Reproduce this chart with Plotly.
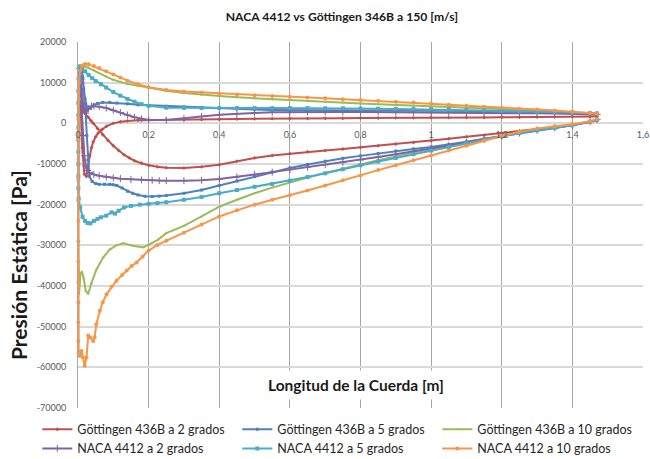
import plotly.graph_objects as go

# ---- data ----
XM = [1.47, 1.45, 1.40, 1.35, 1.30, 1.25, 1.20, 1.15, 1.10, 1.05, 1.00, 0.95, 0.90,
      0.85, 0.80, 0.75, 0.70, 0.65, 0.60, 0.55, 0.50, 0.45, 0.40, 0.35, 0.30, 0.25]

# Göttingen 436B a 2 grados
G2_UP = [1650, 1650, 1650, 1600, 1550, 1500, 1500, 1450, 1450, 1400, 1400, 1350, 1350,
         1300, 1300, 1250, 1250, 1200, 1200, 1150, 1100, 1050, 1000, 950, 950, 900]
G2_LE_X = [0.20, 0.17, 0.14, 0.12, 0.10, 0.081, 0.068, 0.057, 0.05, 0.043, 0.038, 0.033, 0.028,
           0.024, 0.018, 0.012, 0.007, 0.003, 0.009, 0.014, 0.02, 0.029, 0.036, 0.043, 0.055,
           0.07, 0.085, 0.10, 0.115, 0.13, 0.145, 0.16, 0.18, 0.20, 0.225]
G2_LE_Y = [850, 750, 600, 400, 0, -700, -1500, -2400, -3300, -4600, -6000, -8000, -10500,
           -13000, -12500, -6000, 5000, 13500, 8000, 3100, 2400, 1500, 700, 0, -1300,
           -2800, -4200, -5500, -6700, -7700, -8500, -9200, -9800, -10300, -10700]
G2_LO = [-10900, -11000, -10700, -10200, -9300, -8500, -7900, -7450, -7000, -6700, -6300, -5900,
         -5500, -5100, -4700, -4300, -3800, -3300, -2900, -2400, -1900, -1400, -900, -400, 400, 800]

# Göttingen 436B a 5 grados
G5_UP = [2400, 2500, 2600, 2700, 2800, 2900, 2950, 3000, 3050, 3100, 3150, 3150, 3150,
         3150, 3150, 3150, 3150, 3150, 3200, 3300, 3400, 3550, 3700, 3900, 4050, 4200]
G5_LE_X = [0.20, 0.17, 0.14, 0.11, 0.09, 0.07, 0.055, 0.045, 0.035, 0.027, 0.02, 0.014, 0.01,
           0.013, 0.016, 0.021, 0.025, 0.028, 0.032, 0.04, 0.05, 0.06, 0.075, 0.09, 0.10,
           0.11, 0.125, 0.14, 0.155, 0.17, 0.19, 0.21, 0.23]
G5_LE_Y = [4400, 4550, 4800, 5000, 5150, 5150, 4900, 4500, 3700, 3600, 6000, 11000, 13800,
           11500, 8400, 3500, -3000, -9000, -13000, -14300, -14800, -15000, -15000, -15000, -15100,
           -15300, -15900, -16700, -17200, -17600, -17950, -18000, -17900]
G5_LO = [-17750, -17200, -16400, -15300, -14200, -13100, -12000, -11000, -10100, -9300, -8600, -8000,
         -7400, -6800, -6300, -5800, -5200, -4500, -3800, -3200, -2500, -1800, -1100, -500, 400, 900]

# Göttingen 436B a 10 grados
G10_UP = [2300, 2400, 2700, 2900, 3100, 3300, 3500, 3650, 3800, 3950, 4100, 4300, 4500,
          4700, 4900, 5100, 5300, 5450, 5650, 5850, 6100, 6400, 6700, 7050, 7450, 8000]
G10_LE_X = [0.20, 0.17, 0.14, 0.12, 0.10, 0.08, 0.06, 0.045, 0.03, 0.02, 0.012, 0.006, 0.003,
            0.002, 0.001, 0.001, 0.001, 0.002, 0.003, 0.007, 0.011, 0.016, 0.022, 0.029, 0.038,
            0.052, 0.071, 0.09, 0.109, 0.128, 0.156, 0.185, 0.20, 0.225]
G10_LE_Y = [8800, 9200, 9700, 10200, 10700, 11500, 12300, 13100, 13700, 14000, 13900, 13000, 9000,
            0, -10000, -20000, -30000, -36200, -42000, -37000, -36500, -38000, -41200, -41900, -39300,
            -36000, -33000, -31000, -30000, -29500, -30100, -30500, -29900, -28700]
G10_LO = [-27000, -25200, -22900, -20500, -18800, -17200, -15800, -14500, -13300, -12200, -11100,
          -10100, -9100, -8100, -7200, -6400, -5500, -4700, -3900, -3100, -2300, -1600, -1000, -400,
          400, 900]

# NACA 4412 a 2 grados
N2_UP = [2200, 2250, 2350, 2400, 2450, 2500, 2550, 2600, 2650, 2700, 2700, 2750, 2750,
         2800, 2800, 2800, 2800, 2800, 2750, 2700, 2550, 2350, 2100, 1700, 1200, 800]
N2_LE_X = [0.20, 0.18, 0.16, 0.14, 0.12, 0.10, 0.08, 0.06, 0.045, 0.038, 0.03, 0.022, 0.015,
           0.008, 0.004, 0.006, 0.01, 0.014, 0.018, 0.022, 0.027, 0.033, 0.045, 0.06, 0.08,
           0.10, 0.12, 0.15, 0.18, 0.21, 0.23]
N2_LE_Y = [800, 1100, 1500, 2050, 2650, 3200, 3750, 4100, 4250, 4250, 3600, 2500, 4000,
           10000, 13500, 11000, 4000, -3000, -8000, -10500, -11600, -12100, -12600, -12900, -13200,
           -13400, -13600, -13800, -13900, -14000, -14100]
N2_LO = [-14100, -14100, -14000, -13700, -13200, -12600, -12000, -11400, -10800, -10200, -9600,
         -9000, -8300, -7600, -6900, -6200, -5500, -4700, -3900, -3100, -2400, -1700, -1100, -500,
         400, 900]

# NACA 4412 a 5 grados
N5_UP = [2400, 2500, 2650, 2800, 2900, 3000, 3100, 3200, 3300, 3400, 3450, 3500, 3550,
         3600, 3650, 3700, 3700, 3750, 3750, 3750, 3750, 3750, 3750, 3750, 3800, 3850]
N5_LE_X = [0.20, 0.18, 0.16, 0.14, 0.12, 0.10, 0.08, 0.065, 0.05, 0.04, 0.03, 0.02, 0.012,
           0.006, 0.003, 0.002, 0.001, 0.001, 0.001, 0.001, 0.001, 0.001, 0.001, 0.001, 0.001,
           0.002, 0.006, 0.013, 0.02, 0.027, 0.035, 0.045, 0.055, 0.065, 0.08, 0.095, 0.105,
           0.115, 0.13, 0.15, 0.175, 0.20, 0.225]
N5_LE_Y = [4300, 4700, 5300, 6000, 6800, 7700, 8800, 9600, 10400, 11100, 11900, 12800, 13500,
           13900, 14000, 11000, 8000, 5000, 2000, -1000, -4000, -7000, -10000, -13000, -16000,
           -18500, -20700, -23000, -24000, -24500, -24600, -24000, -23500, -23100, -22700, -21900,
           -22200, -21500, -20700, -20300, -20000, -19800, -19600]
N5_LO = [-19400, -18800, -18100, -17200, -16400, -15600, -14900, -14100, -13200, -12300, -11300,
         -10300, -9400, -8500, -7600, -6700, -5800, -4900, -4000, -3200, -2400, -1700, -1100, -500,
         400, 900]

# NACA 4412 a 10 grados
N10_UP = [2400, 2550, 2900, 3150, 3400, 3600, 3850, 4100, 4350, 4600, 4850, 5100, 5300,
          5550, 5750, 5950, 6150, 6350, 6550, 6750, 6900, 7100, 7250, 7500, 7800, 8200]
N10_LE_X = [0.20, 0.17, 0.14, 0.12, 0.10, 0.08, 0.06, 0.045, 0.03, 0.02, 0.012, 0.006, 0.003,
            0.002, 0.001, 0.001, 0.001, 0.001, 0.001, 0.001, 0.001, 0.001, 0.001, 0.001, 0.001,
            0.001, 0.002, 0.005, 0.010, 0.014, 0.019, 0.024, 0.029, 0.034, 0.043, 0.047, 0.052,
            0.062, 0.07, 0.081, 0.095, 0.109, 0.125, 0.138, 0.152, 0.166, 0.183, 0.20, 0.225]
N10_LE_Y = [8900, 9600, 10500, 11300, 12000, 12800, 13600, 14100, 14500, 14600, 14200, 13000, 10000,
            6000, 1000, -4000, -9000, -14000, -19000, -24000, -29000, -34000, -39000, -44000, -49000,
            -53500, -56300, -57200, -56000, -57600, -59600, -57600, -52200, -52600, -53500, -52600,
            -49400, -46100, -44000, -42000, -40200, -38700, -37300, -36200, -35100, -34200, -32800,
            -31300, -29900]
N10_LO = [-28900, -26900, -24900, -22900, -21400, -20000, -18800, -17700, -16500, -15300, -14000,
          -12800, -11500, -10300, -9100, -7900, -6700, -5500, -4300, -3100, -2100, -1300, -700, -200,
          500, 1000]

NAMES = ["Göttingen 436B a 2 grados", "Göttingen 436B a 5 grados", "Göttingen 436B a 10 grados",
         "NACA 4412 a 2 grados", "NACA 4412 a 5 grados", "NACA 4412 a 10 grados"]

X_TICKS = [0, 0.2, 0.4, 0.6, 0.8, 1.0, 1.2, 1.4, 1.6]
X_TICK_LABELS = ["0", "0,2", "0,4", "0,6", "0,8", "1", "1,2", "1,4", "1,6"]
Y_TICKS = [20000, 10000, 0, -10000, -20000, -30000, -40000, -50000, -60000, -70000]
Y_TICK_LABELS = ["20000", "10000", "0", "-10000", "-20000", "-30000", "-40000", "-50000",
                 "-60000", "-70000"]

# ---- styles ----
COLORS = ["#C0504D", "#4F81BD", "#9BBB59", "#8064A2", "#4BACC6", "#F79646"]
SYMBOLS = ["diamond", "square", "triangle-up", "cross-thin", "square", "circle"]
MSIZES = [3, 3, 3, 5, 4, 4]
FONT = "Lato, 'Open Sans', sans-serif"

series = [(G2_UP, G2_LE_X, G2_LE_Y, G2_LO), (G5_UP, G5_LE_X, G5_LE_Y, G5_LO),
          (G10_UP, G10_LE_X, G10_LE_Y, G10_LO), (N2_UP, N2_LE_X, N2_LE_Y, N2_LO),
          (N5_UP, N5_LE_X, N5_LE_Y, N5_LO), (N10_UP, N10_LE_X, N10_LE_Y, N10_LO)]

fig = go.Figure()
for i, (up, lex, ley, lo) in enumerate(series):
    xs = XM + lex + XM[::-1]
    ys = up + ley + lo
    mk = dict(symbol=SYMBOLS[i], size=MSIZES[i], color=COLORS[i])
    if SYMBOLS[i].endswith("thin"):
        mk["line"] = dict(color=COLORS[i], width=1)
    fig.add_trace(go.Scatter(x=xs, y=ys, name=NAMES[i], mode="lines+markers",
                             line=dict(color=COLORS[i], width=2), marker=mk,
                             cliponaxis=False))

fig.update_layout(
    width=650, height=459,
    margin=dict(l=78, r=7, t=42, b=51, autoexpand=False),
    paper_bgcolor="white", plot_bgcolor="white",
    font=dict(family=FONT, color="#404040"),
    title=dict(text="<b>NACA 4412 vs Göttingen 346B a 150 [m/s]</b>",
               font=dict(size=12.2, color="#1a1a1a", family=FONT),
               x=0.526, xref="container", xanchor="center",
               y=1 - 17 / 459, yref="container", yanchor="middle"),
    xaxis=dict(range=[0, 1.6], tickvals=X_TICKS, ticktext=X_TICK_LABELS,
               showgrid=True, gridcolor="#a6a6a6", gridwidth=1,
               zeroline=False, showline=False, ticks="",
               anchor="free", position=7 / 9, ticklabelstandoff=5,
               tickfont=dict(size=9, color="#595959")),
    yaxis=dict(range=[-70000, 20000], tickvals=Y_TICKS, ticktext=Y_TICK_LABELS,
               showgrid=True, gridcolor="#d9d9d9", gridwidth=1.5,
               zeroline=False, showline=True, linecolor="#a6a6a6", linewidth=1,
               ticks="", ticklabelstandoff=9,
               tickfont=dict(size=9, color="#595959")),
    legend=dict(orientation="h", x=-0.072, xanchor="left", y=-0.018, yanchor="top",
                entrywidth=155, entrywidthmode="pixels",
                font=dict(size=12.5, color="#262626", family=FONT),
                tracegroupgap=0, bgcolor="rgba(0,0,0,0)"),
    showlegend=True,
)

fig.add_annotation(text="<b>Longitud de la Cuerda [m]</b>", xref="paper", yref="paper",
                   x=(356 - 78) / 565, y=(408 - 385) / 366, xanchor="center", yanchor="middle",
                   showarrow=False,
                   font=dict(size=15.5, color="#1a1a1a", family=FONT),
                   bgcolor="white", borderpad=5)
fig.add_annotation(text="<b>Presión Estática [Pa]</b>", xref="paper", yref="paper",
                   x=(18 - 78) / 565, y=(408 - 265) / 366, xanchor="center", yanchor="middle",
                   showarrow=False, textangle=-90,
                   font=dict(size=21, color="#1a1a1a", family=FONT))

fig.write_html("out.html")
